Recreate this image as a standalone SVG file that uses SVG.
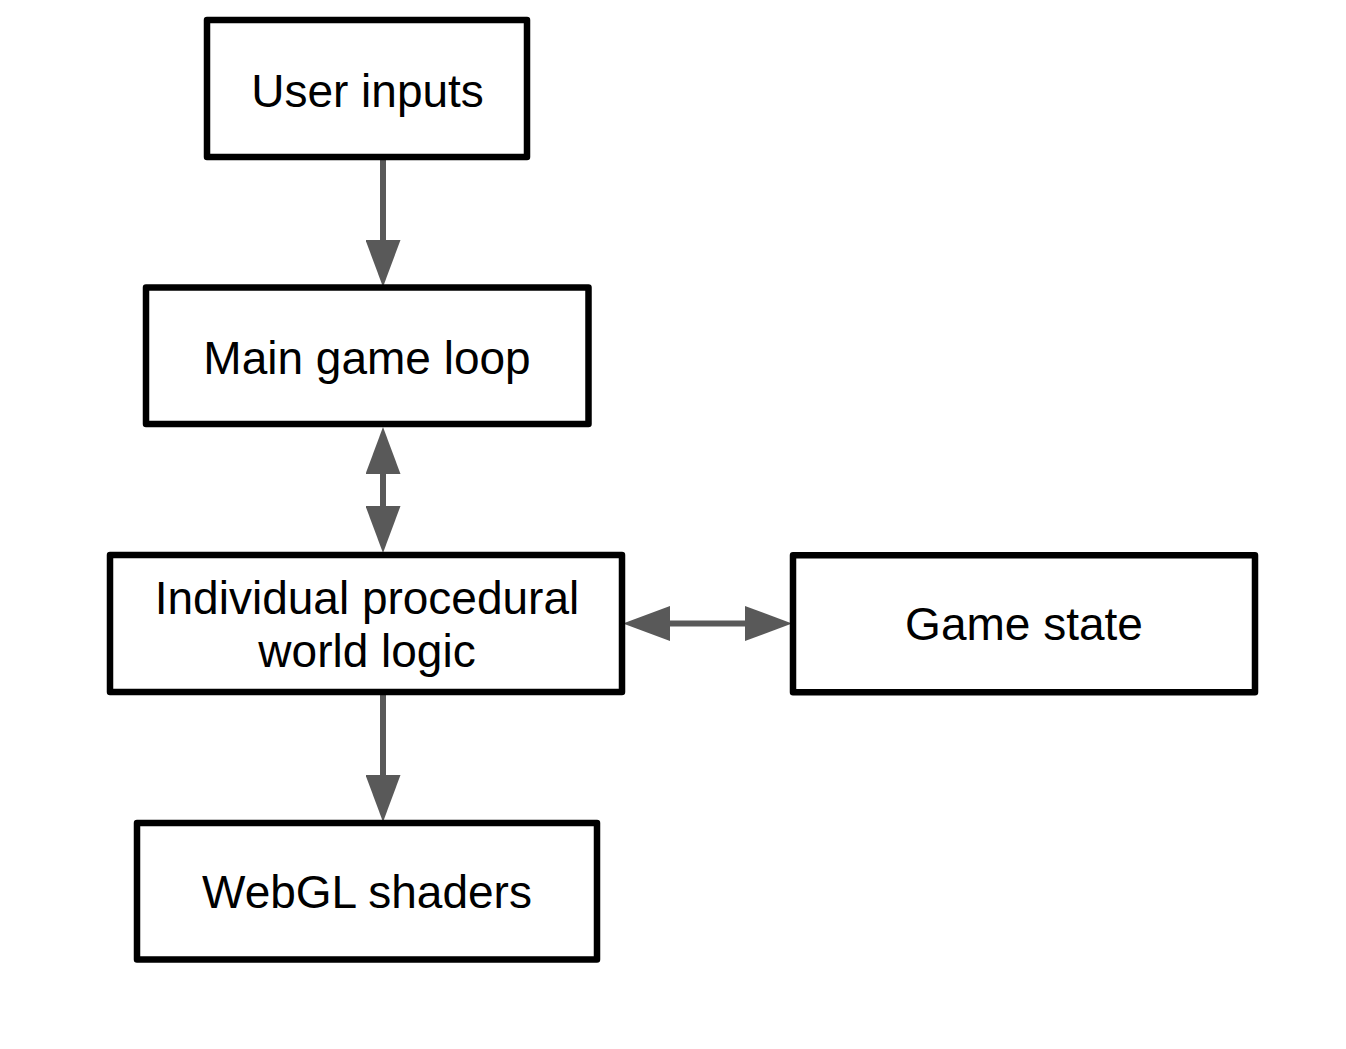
<svg xmlns="http://www.w3.org/2000/svg" width="1346" height="1049" viewBox="0 0 1346 1049">
  <style>
    .box { fill: #ffffff; stroke: #000000; stroke-width: 6.5; stroke-linejoin: round; }
    .lbl { font-family: "Liberation Sans", Arial, sans-serif; font-size: 46px; fill: #000000; text-anchor: middle; }
    .conn { stroke: #595959; stroke-width: 6; fill: none; }
  </style>
  <defs>
    <marker id="head" viewBox="0 0 47 35" refX="1" refY="17.5" markerWidth="47" markerHeight="35" markerUnits="userSpaceOnUse" orient="auto-start-reverse">
      <path d="M0,0 L47,17.5 L0,35 Z" fill="#595959"/>
    </marker>
  </defs>
  <rect width="1346" height="1049" fill="#ffffff"/>
  <g id="connectors">
    <line class="conn" x1="383" y1="157" x2="383" y2="241" marker-end="url(#head)"/>
    <line class="conn" x1="383" y1="473" x2="383" y2="507" marker-start="url(#head)" marker-end="url(#head)"/>
    <line class="conn" x1="669" y1="623.5" x2="746" y2="623.5" marker-start="url(#head)" marker-end="url(#head)"/>
    <line class="conn" x1="383" y1="692" x2="383" y2="776" marker-end="url(#head)"/>
  </g>
  <g id="user-inputs">
    <rect class="box" x="207" y="20" width="320" height="137"/>
    <text class="lbl" x="367.5" y="106.5">User inputs</text>
  </g>
  <g id="main-game-loop">
    <rect class="box" x="146" y="287.5" width="442.5" height="136.5"/>
    <text class="lbl" x="367" y="373.5">Main game loop</text>
  </g>
  <g id="individual-procedural-world-logic">
    <rect class="box" x="110" y="555" width="512" height="137"/>
    <text class="lbl" x="367" y="614">Individual procedural</text>
    <text class="lbl" x="367" y="667">world logic</text>
  </g>
  <g id="game-state">
    <rect class="box" x="793" y="555.3" width="462" height="137"/>
    <text class="lbl" x="1024" y="640">Game state</text>
  </g>
  <g id="webgl-shaders">
    <rect class="box" x="137" y="823" width="460" height="136.5"/>
    <text class="lbl" x="367" y="908">WebGL shaders</text>
  </g>
</svg>
